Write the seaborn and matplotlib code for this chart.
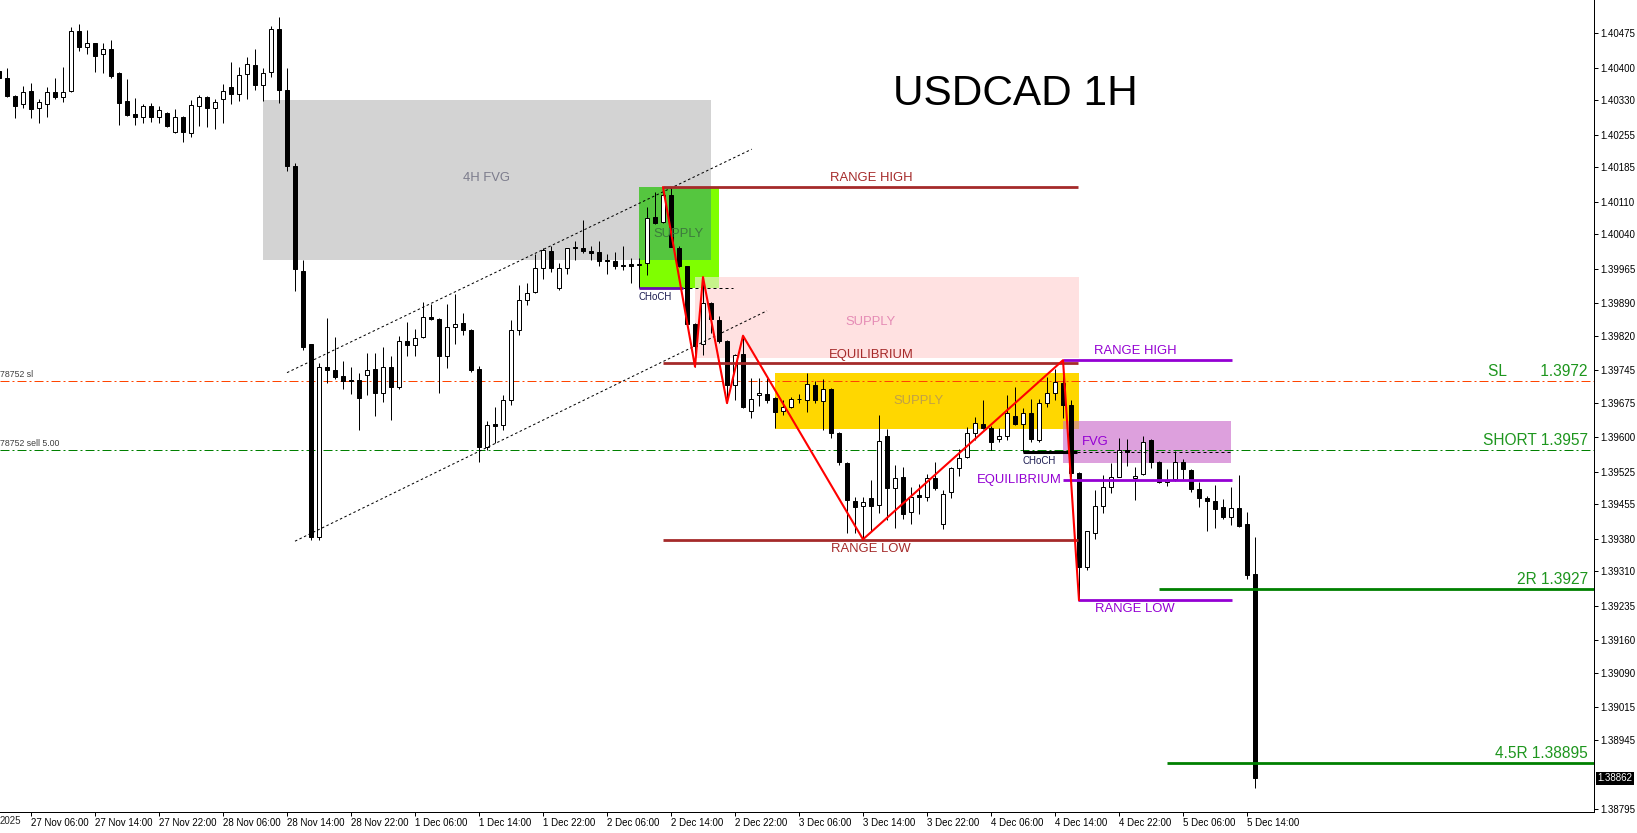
import numpy as np
import pandas as pd
import matplotlib
matplotlib.use("Agg")
import matplotlib.pyplot as plt
import matplotlib.transforms as mtrans
from matplotlib.patches import Rectangle
import seaborn as sns

# ---- candle data (1H bars, index 0 = 27 Nov 06:00) ----
first_bar = -4
open_ = [1.40393, 1.40378, 1.40339, 1.40321, 1.40350, 1.40314, 1.40321, 1.40348, 1.40336, 1.40350,
         1.40480, 1.40445, 1.40453, 1.40431, 1.40442, 1.40389, 1.40328, 1.40300, 1.40294, 1.40317,
         1.40293, 1.40302, 1.40261, 1.40293, 1.40258, 1.40318, 1.40337, 1.40314, 1.40332, 1.40358,
         1.40344, 1.40386, 1.40406, 1.40364, 1.40392, 1.40484, 1.40353, 1.40187, 1.39961, 1.39801,
         1.39383, 1.39753, 1.39746, 1.39733, 1.39724, 1.39724, 1.39736, 1.39748, 1.39697, 1.39752,
         1.39709, 1.39809, 1.39799, 1.39818, 1.39860, 1.39856, 1.39775, 1.39838, 1.39847, 1.39832,
         1.39747, 1.39580, 1.39628, 1.39627, 1.39681, 1.39832, 1.39897, 1.39914, 1.39966, 1.40004,
         1.39923, 1.39966, 1.40012, 1.40010, 1.40004, 1.40001, 1.39985, 1.39982, 1.39973, 1.39975,
         1.39974, 1.39977, 1.40077, 1.40067, 1.40125, 1.40010, 1.39970, 1.39845, 1.39801, 1.39890,
         1.39854, 1.39808, 1.39713, 1.39780, 1.39658, 1.39691, 1.39694, 1.39686, 1.39658, 1.39665,
         1.39683, 1.39681, 1.39713, 1.39679, 1.39704, 1.39609, 1.39544, 1.39463, 1.39451, 1.39468,
         1.39453, 1.39602, 1.39490, 1.39513, 1.39438, 1.39474, 1.39470, 1.39511, 1.39412, 1.39481,
         1.39533, 1.39558, 1.39609, 1.39628, 1.39620, 1.39596, 1.39603, 1.39646, 1.39628, 1.39652,
         1.39594, 1.39674, 1.39697, 1.39718, 1.39670, 1.39522, 1.39320, 1.39393, 1.39452, 1.39492,
         1.39515, 1.39573, 1.39512, 1.39520, 1.39594, 1.39547, 1.39504, 1.39509, 1.39547, 1.39529,
         1.39487, 1.39469, 1.39462, 1.39448, 1.39428, 1.39446, 1.39412, 1.39304]
high = [1.40400, 1.40400, 1.40341, 1.40361, 1.40367, 1.40333, 1.40358, 1.40378, 1.40402, 1.40488,
        1.40495, 1.40482, 1.40455, 1.40455, 1.40460, 1.40391, 1.40376, 1.40334, 1.40321, 1.40323,
        1.40317, 1.40304, 1.40310, 1.40295, 1.40330, 1.40342, 1.40339, 1.40332, 1.40365, 1.40412,
        1.40402, 1.40423, 1.40441, 1.40400, 1.40490, 1.40510, 1.40399, 1.40193, 1.39984, 1.39802,
        1.39761, 1.39858, 1.39817, 1.39766, 1.39752, 1.39739, 1.39783, 1.39782, 1.39795, 1.39775,
        1.39819, 1.39849, 1.39834, 1.39892, 1.39889, 1.39858, 1.39889, 1.39910, 1.39869, 1.39834,
        1.39754, 1.39635, 1.39666, 1.39692, 1.39854, 1.39930, 1.39934, 1.39997, 1.40009, 1.40014,
        1.39978, 1.40010, 1.40025, 1.40070, 1.40014, 1.40025, 1.39998, 1.40001, 1.40014, 1.39988,
        1.39988, 1.40098, 1.40131, 1.40142, 1.40139, 1.40015, 1.39972, 1.39847, 1.39947, 1.39892,
        1.39863, 1.39810, 1.39780, 1.39820, 1.39729, 1.39729, 1.39729, 1.39688, 1.39681, 1.39688,
        1.39694, 1.39740, 1.39723, 1.39726, 1.39706, 1.39611, 1.39546, 1.39471, 1.39471, 1.39507,
        1.39648, 1.39617, 1.39540, 1.39535, 1.39492, 1.39499, 1.39520, 1.39546, 1.39486, 1.39535,
        1.39575, 1.39623, 1.39645, 1.39681, 1.39624, 1.39620, 1.39692, 1.39710, 1.39663, 1.39682,
        1.39682, 1.39731, 1.39747, 1.39767, 1.39681, 1.39524, 1.39397, 1.39486, 1.39518, 1.39544,
        1.39598, 1.39597, 1.39536, 1.39603, 1.39596, 1.39549, 1.39531, 1.39571, 1.39552, 1.39531,
        1.39504, 1.39473, 1.39497, 1.39466, 1.39493, 1.39518, 1.39439, 1.39385]
low = [1.40374, 1.40338, 1.40291, 1.40314, 1.40292, 1.40281, 1.40294, 1.40332, 1.40327, 1.40348,
       1.40437, 1.40431, 1.40392, 1.40390, 1.40379, 1.40276, 1.40296, 1.40276, 1.40280, 1.40283,
       1.40281, 1.40273, 1.40259, 1.40239, 1.40251, 1.40275, 1.40271, 1.40268, 1.40280, 1.40321,
       1.40329, 1.40332, 1.40352, 1.40328, 1.40380, 1.40324, 1.40177, 1.39917, 1.39790, 1.39378,
       1.39378, 1.39717, 1.39726, 1.39705, 1.39694, 1.39616, 1.39692, 1.39647, 1.39677, 1.39638,
       1.39705, 1.39777, 1.39775, 1.39816, 1.39854, 1.39697, 1.39751, 1.39803, 1.39822, 1.39742,
       1.39547, 1.39572, 1.39587, 1.39616, 1.39670, 1.39822, 1.39887, 1.39912, 1.39942, 1.39957,
       1.39918, 1.39954, 1.39984, 1.40000, 1.39984, 1.39972, 1.39953, 1.39965, 1.39962, 1.39935,
       1.39923, 1.39952, 1.40061, 1.40064, 1.40012, 1.39968, 1.39843, 1.39753, 1.39778, 1.39825,
       1.39805, 1.39674, 1.39681, 1.39664, 1.39641, 1.39668, 1.39674, 1.39620, 1.39648, 1.39663,
       1.39674, 1.39654, 1.39674, 1.39616, 1.39598, 1.39540, 1.39393, 1.39393, 1.39379, 1.39396,
       1.39435, 1.39421, 1.39403, 1.39422, 1.39412, 1.39433, 1.39463, 1.39486, 1.39401, 1.39469,
       1.39517, 1.39555, 1.39594, 1.39617, 1.39573, 1.39589, 1.39594, 1.39626, 1.39569, 1.39590,
       1.39590, 1.39666, 1.39681, 1.39641, 1.39515, 1.39247, 1.39313, 1.39380, 1.39437, 1.39480,
       1.39513, 1.39538, 1.39464, 1.39518, 1.39533, 1.39500, 1.39495, 1.39505, 1.39509, 1.39482,
       1.39448, 1.39396, 1.39403, 1.39422, 1.39410, 1.39405, 1.39293, 1.38840]
close = [1.40378, 1.40339, 1.40318, 1.40348, 1.40310, 1.40326, 1.40348, 1.40338, 1.40348, 1.40479,
         1.40445, 1.40453, 1.40426, 1.40442, 1.40383, 1.40325, 1.40298, 1.40294, 1.40317, 1.40294,
         1.40308, 1.40275, 1.40293, 1.40261, 1.40319, 1.40337, 1.40314, 1.40326, 1.40349, 1.40344,
         1.40384, 1.40408, 1.40364, 1.40389, 1.40484, 1.40353, 1.40187, 1.39965, 1.39796, 1.39384,
         1.39753, 1.39746, 1.39731, 1.39722, 1.39721, 1.39686, 1.39745, 1.39697, 1.39752, 1.39710,
         1.39809, 1.39799, 1.39816, 1.39860, 1.39856, 1.39777, 1.39839, 1.39845, 1.39833, 1.39746,
         1.39578, 1.39626, 1.39625, 1.39681, 1.39832, 1.39897, 1.39912, 1.39966, 1.40005, 1.39967,
         1.39966, 1.40009, 1.40009, 1.40004, 1.39999, 1.39981, 1.39981, 1.39971, 1.39972, 1.39970,
         1.39975, 1.40076, 1.40064, 1.40125, 1.40013, 1.39970, 1.39845, 1.39798, 1.39890, 1.39856,
         1.39809, 1.39713, 1.39778, 1.39666, 1.39682, 1.39695, 1.39681, 1.39654, 1.39665, 1.39684,
         1.39682, 1.39715, 1.39681, 1.39704, 1.39609, 1.39547, 1.39464, 1.39448, 1.39459, 1.39452,
         1.39591, 1.39490, 1.39512, 1.39433, 1.39470, 1.39471, 1.39511, 1.39490, 1.39477, 1.39533,
         1.39555, 1.39609, 1.39630, 1.39620, 1.39589, 1.39603, 1.39652, 1.39628, 1.39652, 1.39596,
         1.39674, 1.39697, 1.39719, 1.39671, 1.39522, 1.39320, 1.39397, 1.39452, 1.39492, 1.39513,
         1.39573, 1.39569, 1.39516, 1.39590, 1.39547, 1.39504, 1.39507, 1.39547, 1.39531, 1.39487,
         1.39468, 1.39463, 1.39444, 1.39428, 1.39446, 1.39408, 1.39302, 1.38862]

tick_bars = [0, 8, 16, 24, 32, 40, 48, 56, 64, 72, 80, 88, 96, 104, 112, 120, 128, 136, 144, 152]
tick_dates = ["27 Nov 06:00", "27 Nov 14:00", "27 Nov 22:00", "28 Nov 06:00", "28 Nov 14:00",
              "28 Nov 22:00", "1 Dec 06:00", "1 Dec 14:00", "1 Dec 22:00", "2 Dec 06:00",
              "2 Dec 14:00", "2 Dec 22:00", "3 Dec 06:00", "3 Dec 14:00", "3 Dec 22:00",
              "4 Dec 06:00", "4 Dec 14:00", "4 Dec 22:00", "5 Dec 06:00", "5 Dec 14:00"]
price_ticks = ["1.40475", "1.40400", "1.40330", "1.40255", "1.40185", "1.40110", "1.40040",
               "1.39965", "1.39890", "1.39820", "1.39745", "1.39675", "1.39600", "1.39525",
               "1.39455", "1.39380", "1.39310", "1.39235", "1.39160", "1.39090", "1.39015",
               "1.38945", "1.38795"]

# swing structure
zig_bars = [79, 83, 84, 87, 89, 104, 129, 131]
zig_prices = [1.40142, 1.39753, 1.39947, 1.39674, 1.39820, 1.39379, 1.39767, 1.39247]

range1 = {"high": 1.40142, "eq": 1.39760, "low": 1.39378}
range2 = {"high": 1.39767, "eq": 1.39507, "low": 1.39247}
sl_price, short_price, tp2_price, tp45_price, last_price = 1.39721, 1.39573, 1.39271, 1.38894, 1.38862

df = pd.DataFrame({"bar": np.arange(first_bar, first_bar + len(open_)),
                   "open": open_, "high": high, "low": low, "close": close})

sns.set_theme(style="white")
plt.rcParams["font.family"] = ["Liberation Sans", "DejaVu Sans"]

W, H = 1637, 833
fig = plt.figure(figsize=(W / 100, H / 100), dpi=100)
ax = fig.add_axes([0, 21 / H, 1594 / W, 812 / H])
ax.set_facecolor("white")
PX = 0.72  # one pixel in points

# ---- zones ----
def zone(x0, x1, y0, y1, color, z=1):
    ax.add_patch(Rectangle((x0, y0), x1 - x0, y1 - y0, facecolor=color, edgecolor="none", zorder=z))

zone(29, 85, 1.39984, 1.40330, "#d3d3d3")
zone(76, 86, 1.39923, 1.40143, "#7fff00")
zone(76, 85, 1.39984, 1.40143, "#55c63f", 1.1)
zone(83, 131, 1.39772, 1.39947, "#ffe1e1")
zone(83, 86, 1.39923, 1.39947, "#c6f38a", 1.1)
zone(93, 131, 1.39618, 1.39739, "#ffd700")
zone(129, 150, 1.39544, 1.39635, "#dda0dd")
zone(129, 131, 1.39618, 1.39635, "#dca070", 1.1)

# ---- trade lines ----
ax.axhline(sl_price, color="#ff4500", lw=PX, dashes=(9, 3, 2, 3), zorder=2)
ax.axhline(short_price, color="#008000", lw=PX, dashes=(9, 3, 2, 3), zorder=2)
ax.plot([141, 200], [tp2_price] * 2, color="#008000", lw=2.0, zorder=6, solid_capstyle="butt")
ax.plot([142, 200], [tp45_price] * 2, color="#008000", lw=2.0, zorder=6, solid_capstyle="butt")

# ---- channel ----
ax.plot([32, 90.1], [1.39740, 1.40224], color="black", lw=PX, dashes=(2.5, 2.5), zorder=5)
ax.plot([33, 92], [1.39375, 1.39874], color="black", lw=PX, dashes=(2.5, 2.5), zorder=5)

# ---- candles ----
up = df["close"] >= df["open"]
ax.vlines(df["bar"], df["low"], df["high"], color="black", lw=PX, zorder=3)
body = (df["close"] - df["open"]).abs().clip(lower=0.000015)
bottom = df[["open", "close"]].min(axis=1)
ax.bar(df["bar"][up], body[up], bottom=bottom[up], width=0.55, facecolor="white",
       edgecolor="black", lw=PX, zorder=4)
ax.bar(df["bar"][~up], body[~up], bottom=bottom[~up], width=0.55, facecolor="black",
       edgecolor="black", lw=PX, zorder=4)

# ---- ranges ----
brown = "#a52a2a"
purple = "#9400d3"
for key in ["high", "eq", "low"]:
    ax.plot([79, 130.9], [range1[key]] * 2, color=brown, lw=2.0, zorder=6, solid_capstyle="butt")
for key, x0 in [("high", 129), ("eq", 129), ("low", 130.9)]:
    ax.plot([x0, 150.1], [range2[key]] * 2, color=purple, lw=2.0, zorder=6, solid_capstyle="butt")

sns.lineplot(x=zig_bars, y=zig_prices, color="red", lw=1.5, sort=False, ax=ax, zorder=7)

# CHoCH markers
ax.plot([76, 81.5], [1.39923] * 2, color="#6a0dad", lw=2.0, zorder=6, solid_capstyle="butt")
ax.plot([81.5, 87.75], [1.39923] * 2, color="black", lw=PX, dashes=(3, 3), zorder=6)
ax.plot([124, 130.75], [1.39568] * 2, color="black", lw=2.2, zorder=6, solid_capstyle="butt")
ax.plot([130.75, 150], [1.39568] * 2, color="black", lw=PX, dashes=(3, 3), zorder=6)

# ---- labels ----
fs = 9.4
def label(x, y, s, color, dy=0, ha="center", size=fs, **kw):
    ax.annotate(s, (x, y), xytext=(0, dy), textcoords="offset points", ha=ha, va="center",
                color=color, fontsize=size, zorder=8, **kw)

label(57, 1.40162, "4H FVG", "#7c7c8c")
label(81, 1.40040, "SUPPLY", "#3d7a3d")
label(105, 1.39850, "SUPPLY", "#e58bb5")
label(111, 1.39679, "SUPPLY", "#c0a048")
label(105, range1["high"], "RANGE HIGH", brown, dy=6.8)
label(105, range1["eq"], "EQUILIBRIUM", brown, dy=5.8)
label(105, range1["low"], "RANGE LOW", brown, dy=-6.5)
label(138, range2["high"], "RANGE HIGH", purple, dy=6.6)
label(138, range2["low"], "RANGE LOW", purple, dy=-6.6)
label(128.9, range2["eq"], "EQUILIBRIUM", purple, ha="right")
label(133, 1.39590, "FVG", purple)
label(76, 1.39923, "CHoCH", "#1a1a50", dy=-6.5, ha="left", size=7)
label(124, 1.39568, "CHoCH", "#1a1a50", dy=-6.5, ha="left", size=7)

fig.text(1015 / W, 1 - 94 / H, "USDCAD 1H", fontsize=30.5, ha="center", va="center", color="black")

tr = mtrans.blended_transform_factory(ax.transAxes, ax.transData)
for price, s in [(sl_price, "SL        1.3972"), (short_price, "SHORT 1.3957"),
                 (tp2_price, "2R 1.3927"), (tp45_price, "4.5R 1.38895")]:
    ax.annotate(s, (0.9962, price), xycoords=tr, xytext=(0, 1.5), textcoords="offset points",
                ha="right", va="bottom", color="#1e961e", fontsize=11.2, zorder=8)
for price, s in [(sl_price, "78752 sl"), (short_price, "78752 sell 5.00")]:
    ax.annotate(s, (0.0, price), xycoords=tr, xytext=(0, 1.5), textcoords="offset points",
                ha="left", va="bottom", color="#404040", fontsize=6.3, zorder=8)

# ---- axes ----
ax.set_xlim(-31 / 8, (1594 - 31) / 8)
ax.set_ylim(1.405471 - 812 * 2.1658e-5, 1.405471)
ax.yaxis.tick_right()
ax.set_yticks([float(p) for p in price_ticks])
ax.set_yticklabels(price_ticks)
ax.set_xticks(tick_bars)
ax.set_xticklabels(tick_dates, ha="left")
ax.tick_params(axis="both", labelsize=7, colors="black", length=3, width=PX, pad=1.5,
               direction="out")
ax.tick_params(axis="x", bottom=True)
ax.tick_params(axis="y", right=True, left=False)
for side in ["top", "left"]:
    ax.spines[side].set_visible(False)
for side in ["right", "bottom"]:
    ax.spines[side].set_color("black")
    ax.spines[side].set_linewidth(PX)
ax.grid(False)

ax.annotate("1.38862", (1.0, last_price), xycoords=tr, xytext=(2.5, 0), textcoords="offset points",
            ha="left", va="center", color="white", fontsize=7, annotation_clip=False,
            bbox=dict(boxstyle="square,pad=0.15", facecolor="black", edgecolor="none"))
fig.text(0, 1 - 821 / H, "2025", fontsize=7, ha="left", va="center")

fig.savefig("out.png", dpi=100)
